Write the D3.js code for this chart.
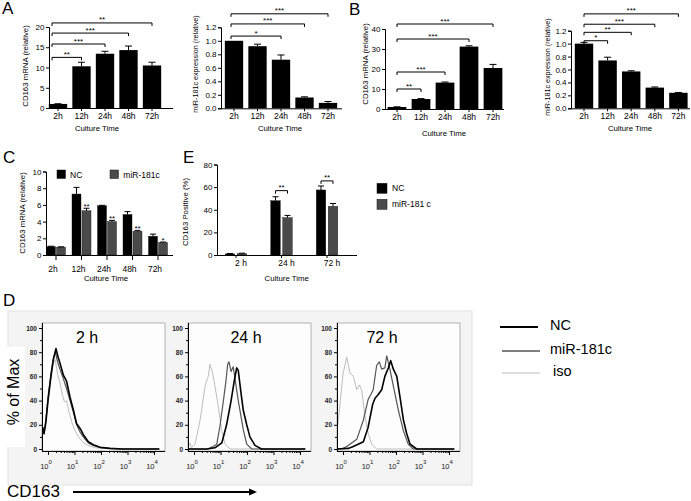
<!DOCTYPE html>
<html><head><meta charset="utf-8">
<script src="https://cdn.jsdelivr.net/npm/d3@7"></script>
<style>body{margin:0;background:#fff}svg{display:block}</style>
</head><body><svg id="c" width="691" height="501"></svg>
<script>
// ---------- DATA ----------
const timeCats = ["2h","12h","24h","48h","72h"];
const aMrna = [1.0,10.3,13.4,14.3,10.5];
const aMrnaSem = [0.05,1.0,0.6,1.0,0.8];
const aMrnaSigTo = ["12h","24h","48h","72h"];
const aMrnaSigTxt = ["**","***","***","**"];
const aMrnaSigLv = [12.5,15.8,18.5,21];

const aMir = [1.0,0.92,0.72,0.16,0.08];
const aMirSem = [0.0,0.03,0.07,0.01,0.02];
const aMirSigTo = ["24h","48h","72h"];
const aMirSigTxt = ["*","***","***"];
const aMirSigLv = [1.07,1.25,1.40];

const bMrna = [1.0,5.0,13.2,31.2,20.5];
const bMrnaSem = [0.1,0.2,0.3,0.4,1.8];
const bMrnaSigTo = ["12h","24h","48h","72h"];
const bMrnaSigTxt = ["**","***","***","***"];
const bMrnaSigLv = [10,18.5,35,42.5];

const bMir = [1.0,0.74,0.57,0.32,0.24];
const bMirSem = [0.02,0.05,0.01,0.01,0.005];
const bMirSigTo = ["12h","24h","48h","72h"];
const bMirSigTxt = ["*","**","***","***"];
const bMirSigLv = [1.045,1.175,1.30,1.46];

const seriesNames = ["NC","miR-181c"];
const cNC = [1.0,7.3,5.9,4.85,2.25];
const cNCSem = [0.05,0.8,0.05,0.35,0.25];
const cMir = [0.95,5.3,4.0,2.85,1.5];
const cMirSem = [0.03,0.3,0.15,0.1,0.05];
const cStars = ["","**","**","**","*"];

const eCats = ["2 h","24 h","72 h"];
const eNC = [1.0,48,57.5];
const eNCSem = [0.3,3.5,3.5];
const eMir = [1.2,33,43];
const eMirSem = [0.4,2,2.5];
const eSigTo = ["24 h","72 h"];
const eSigTxt = ["**","**"];
const eSigLv = [56.9,65.5];

// flow histograms: [log10 CD163, % of max]
const flowTimes = ["2 h","24 h","72 h"];
const nc2h = [[-0.2,18],[-0.15,13],[-0.08,22],[0.0,40],[0.1,58],[0.2,74],[0.3,83],[0.38,76],[0.45,71],[0.58,61],[0.7,56],[0.83,43],[0.96,32],[1.08,21],[1.21,17],[1.33,12],[1.52,6],[1.71,3.5],[1.96,1.5],[2.34,0.5],[2.8,0],[4.2,0]];
const mir2h = [[-0.2,17],[-0.15,12],[-0.08,24],[0.01,44],[0.12,64],[0.22,76],[0.28,80],[0.36,72],[0.45,66],[0.58,58],[0.7,50],[0.83,40],[0.96,30],[1.08,20],[1.21,14],[1.33,10],[1.52,5],[1.71,3],[1.96,1.2],[2.34,0.4],[2.8,0],[4.2,0]];
const iso2h = [[-0.2,16],[-0.15,13],[-0.08,26],[0.01,46],[0.12,62],[0.22,72],[0.27,74],[0.36,62],[0.45,55],[0.55,44],[0.62,39],[0.7,40],[0.8,30],[0.9,22],[1.0,16],[1.15,10],[1.3,6],[1.5,3],[1.8,1],[2.2,0.3],[2.6,0],[4.2,0]];
const nc24h = [[-0.2,0],[0.5,0],[0.79,1],[1.05,5],[1.23,20],[1.4,40],[1.51,55],[1.61,67],[1.67,65],[1.77,47],[1.86,32],[1.99,20],[2.11,10],[2.3,3],[2.55,0],[4.2,0]];
const mir24h = [[-0.2,0],[0.5,0],[0.72,2],[0.86,4],[0.98,19],[1.11,40],[1.2,55],[1.27,70],[1.32,72],[1.4,64],[1.48,68],[1.67,40],[1.86,16],[1.99,4],[2.18,0],[4.2,0]];
const iso24h = [[-0.2,3],[-0.15,5],[-0.1,1],[0.04,4],[0.23,24],[0.42,52],[0.5,58],[0.54,60],[0.6,70],[0.69,64],[0.79,52],[0.92,35],[1.04,16],[1.17,4],[1.36,0],[4.2,0]];
const nc72h = [[-0.2,0],[0.2,0.5],[0.39,2],[0.77,6],[0.95,18],[1.12,37],[1.21,42],[1.33,45],[1.46,49],[1.58,60],[1.71,67],[1.8,73],[1.9,66],[2.03,60],[2.15,43],[2.28,24],[2.4,13],[2.53,4],[2.78,0],[4.2,0]];
const mir72h = [[-0.2,0],[0.0,0.5],[0.14,2],[0.52,8],[0.77,24],[0.95,41],[1.05,45],[1.14,49],[1.27,69],[1.37,72],[1.46,66],[1.58,67],[1.65,77],[1.77,66],[1.9,52],[2.09,32],[2.28,15],[2.46,4],[2.65,0],[4.2,0]];
const iso72h = [[-0.2,19],[-0.1,40],[0.0,62],[0.14,76],[0.26,63],[0.39,60],[0.52,49],[0.62,53],[0.71,48],[0.83,27],[0.95,13],[1.08,4],[1.27,0],[4.2,0]];
const flowLegend = ["NC","miR-181c","iso"];

// ---------- DRAW ----------
const FONT = '"Liberation Sans", Arial, Helvetica, sans-serif';
const svg = d3.select('#c').attr('font-family', FONT);

function styleAxis(g, fs){
  g.attr('font-family', FONT).attr('font-size', fs);
  g.selectAll('path.domain').attr('stroke','#000');
  g.selectAll('.tick line').attr('stroke','#000');
  g.selectAll('.tick text').attr('fill','#000');
}

function bracket(g, x1, x2, yy, txt, fs){
  g.append('path').attr('d',`M${x1},${yy+3}V${yy}H${x2}V${yy+3}`).attr('fill','none').attr('stroke','#000').attr('stroke-width',1);
  g.append('text').attr('x',(x1+x2)/2).attr('y',yy-0.5).attr('text-anchor','middle').attr('font-size',fs).text(txt);
}

function errBar(g, cx, ytop, yerr, cap){
  g.append('path').attr('d',`M${cx},${ytop}V${yerr}M${cx-cap},${yerr}H${cx+cap}`).attr('stroke','#000').attr('stroke-width',1).attr('fill','none');
}

function barPanel(c){
  const g = svg.append('g');
  const y = d3.scaleLinear().domain([0,c.yMax]).range([c.y0,c.yTop]);
  const x0 = c.c0 - c.step/2;
  const x = d3.scaleBand().domain(c.cats).range([x0, x0 + c.cats.length*c.step]).paddingInner(0.22).paddingOuter(0.11);
  c.cats.forEach((k,i)=>{
    g.append('rect').attr('x',x(k)).attr('width',x.bandwidth()).attr('y',y(c.vals[i])).attr('height',c.y0-y(c.vals[i])).attr('fill','#000');
    if(c.sem[i]>0) errBar(g, x(k)+x.bandwidth()/2, y(c.vals[i]), y(c.vals[i]+c.sem[i]), 3.5);
  });
  const ya = g.append('g').attr('transform',`translate(${c.ax},0)`)
    .call(d3.axisLeft(y).tickValues(c.yTicks).tickFormat(c.fmt).tickSize(3).tickPadding(1.5));
  styleAxis(ya, 8);
  const xa = g.append('g').attr('transform',`translate(0,${c.y0})`)
    .call(d3.axisBottom(x).tickSize(3).tickPadding(2));
  xa.select('.domain').attr('d',`M${c.ax},0.5H${c.xEnd}`);
  styleAxis(xa, 8.5);
  g.append('text').attr('transform',`translate(${c.ylx},${c.yly}) rotate(-90)`).attr('text-anchor','middle').attr('dominant-baseline','central').attr('font-size',c.ylfs||7.8).text(c.ylab);
  g.append('text').attr('x',c.xlx).attr('y',c.xly).attr('text-anchor','middle').attr('dominant-baseline','central').attr('font-size',7.8).text('Culture Time');
  const sx = x(c.cats[0]) + x.bandwidth()/2 + c.sigOff;
  c.sigTo.forEach((t,i)=>{
    bracket(g, sx, x(t)+x.bandwidth()/2, y(c.sigLv[i]), c.sigTxt[i], 8);
  });
}

barPanel({cats:timeCats, vals:aMrna, sem:aMrnaSem, yMax:20, yTicks:[0,5,10,15,20], fmt:d3.format('d'),
  ax:49, y0:108, yTop:27, xEnd:173, c0:58, step:23.5, ylab:'CD163 mRNA (relative)', ylx:25, yly:66, xlx:97, xly:128,
  sigTo:aMrnaSigTo, sigTxt:aMrnaSigTxt, sigLv:aMrnaSigLv, sigOff:-6});
barPanel({cats:timeCats, vals:aMir, sem:aMirSem, yMax:1.2, yTicks:[0,0.2,0.4,0.6,0.8,1.0,1.2], fmt:d3.format('.1f'),
  ax:221, y0:108.3, yTop:27.3, xEnd:342, c0:234, step:23.5, ylab:'miR-181c expression (relative)', ylfs:7.2, ylx:195, yly:64, xlx:280, xly:128,
  sigTo:aMirSigTo, sigTxt:aMirSigTxt, sigLv:aMirSigLv, sigOff:-3});
barPanel({cats:timeCats, vals:bMrna, sem:bMrnaSem, yMax:40, yTicks:[0,10,20,30,40], fmt:d3.format('d'),
  ax:385, y0:109, yTop:29, xEnd:504, c0:397, step:24, ylab:'CD163 mRNA (relative)', ylx:365, yly:64, xlx:444, xly:133,
  sigTo:bMrnaSigTo, sigTxt:bMrnaSigTxt, sigLv:bMrnaSigLv, sigOff:0});
barPanel({cats:timeCats, vals:bMir, sem:bMirSem, yMax:1.2, yTicks:[0,0.2,0.4,0.6,0.8,1.0,1.2], fmt:d3.format('.1f'),
  ax:571, y0:108.3, yTop:30.7, xEnd:690, c0:584, step:23.6, ylab:'miR-181c expression (relative)', ylfs:7.2, ylx:547, yly:67, xlx:630, xly:128,
  sigTo:bMirSigTo, sigTxt:bMirSigTxt, sigLv:bMirSigLv, sigOff:0});

function groupPanel(c){
  const g = svg.append('g');
  const y = d3.scaleLinear().domain([0,c.yMax]).range([c.y0,c.yTop]);
  const x0 = c.c0 - c.step/2;
  const pi = 1 - c.grpBw/c.step;
  const x = d3.scaleBand().domain(c.cats).range([x0, x0 + c.cats.length*c.step]).paddingInner(pi).paddingOuter(pi/2);
  const xs = d3.scaleBand().domain(seriesNames).range([0, x.bandwidth()]).paddingInner(c.subPad);
  const cols = {"NC":"#000","miR-181c":"#4a4a4a"};
  c.cats.forEach((k,i)=>{
    [[c.v1,c.s1,"NC"],[c.v2,c.s2,"miR-181c"]].forEach(([v,s,n])=>{
      const bx = x(k)+xs(n);
      g.append('rect').attr('x',bx).attr('width',xs.bandwidth()).attr('y',y(v[i])).attr('height',c.y0-y(v[i])).attr('fill',cols[n]).attr('stroke','#111').attr('stroke-width',0.4);
      errBar(g, bx+xs.bandwidth()/2, y(v[i]), y(v[i]+s[i]), 3);
    });
  });
  const ya = g.append('g').attr('transform',`translate(${c.ax},0)`)
    .call(d3.axisLeft(y).tickValues(c.yTicks).tickSize(3).tickPadding(1.5));
  styleAxis(ya, 8);
  const xa = g.append('g').attr('transform',`translate(0,${c.y0})`)
    .call(d3.axisBottom(x).tickSize(c.xTick).tickPadding(c.xPad));
  xa.select('.domain').attr('d',`M${c.ax},0.5H${c.xEnd}`);
  xa.selectAll('.tick text').attr('dx',c.labDx);
  styleAxis(xa, 8.5);
  g.append('text').attr('transform',`translate(${c.ylx},${c.yly}) rotate(-90)`).attr('text-anchor','middle').attr('dominant-baseline','central').attr('font-size',7.8).text(c.ylab);
  g.append('text').attr('x',c.xlx).attr('y',c.xly).attr('text-anchor','middle').attr('dominant-baseline','central').attr('font-size',7.8).text('Culture Time');
  return {g,x,xs,y};
}

// Panel C
const pc = groupPanel({cats:timeCats, v1:cNC, s1:cNCSem, v2:cMir, s2:cMirSem, yMax:10, yTicks:[0,2,4,6,8,10],
  ax:46, y0:255, yTop:171.5, xEnd:173, c0:56, step:25.5, grpBw:19, subPad:0.1, xTick:5, xPad:6, labDx:-3,
  ylab:'CD163 mRNA (relative)', ylx:22.7, yly:213, xlx:106, xly:278});
timeCats.forEach((k,i)=>{
  if(!cStars[i]) return;
  const cx = pc.x(k)+pc.xs("miR-181c")+pc.xs.bandwidth()/2;
  pc.g.append('text').attr('x',cx).attr('y',pc.y(cMir[i]+cMirSem[i])+1).attr('text-anchor','middle').attr('font-size',8).text(cStars[i]);
});
// legend C
[["NC",57,70],["miR-181c",110,123.3]].forEach(([n,sx,tx],i)=>{
  pc.g.append('rect').attr('x',sx).attr('y',170).attr('width',8.5).attr('height',8.5).attr('fill',i?'#4a4a4a':'#000').attr('stroke','#111').attr('stroke-width',0.5);
  pc.g.append('text').attr('x',tx).attr('y',174.5).attr('dominant-baseline','central').attr('font-size',8.5).text(n);
});

// Panel E
const pe = groupPanel({cats:eCats, v1:eNC, s1:eNCSem, v2:eMir, s2:eMirSem, yMax:80, yTicks:[0,20,40,60,80],
  ax:217, y0:255, yTop:164.5, xEnd:357, c0:236, step:45.5, grpBw:21.5, subPad:0.208, xTick:3, xPad:2.4, labDx:5,
  ylab:'CD163 Positive (%)', ylx:185, yly:212, xlx:286.7, xly:278});
eSigTo.forEach((k,i)=>{
  const x1 = pe.x(k)+pe.xs("NC")+pe.xs.bandwidth()/2;
  const x2 = pe.x(k)+pe.xs("miR-181c")+pe.xs.bandwidth()/2;
  bracket(pe.g, x1, x2, pe.y(eSigLv[i]), eSigTxt[i], 8);
});
[["NC",0],["miR-181 c",1]].forEach(([n,i])=>{
  pe.g.append('rect').attr('x',377).attr('y',183.3+i*16).attr('width',10).attr('height',10).attr('fill',i?'#4a4a4a':'#000').attr('stroke','#111').attr('stroke-width',0.5);
  pe.g.append('text').attr('x',392).attr('y',188.3+i*16).attr('dominant-baseline','central').attr('font-size',8.5).text(n);
});

// Panel letters
[["A",2,14],["B",349,15],["C",3,163],["E",183,163],["D",3,306]].forEach(([t,x,y])=>{
  svg.append('text').attr('x',x).attr('y',y).attr('font-size',17).text(t);
});

// Panel D
const gd = svg.append('g');
gd.append('rect').attr('x',8).attr('y',311).attr('width',464).attr('height',174).attr('fill','#f4f4f4').attr('stroke','#e2e2e2');
gd.append('rect').attr('x',1).attr('y',347).attr('width',24).attr('height',100).attr('fill','#fff');
gd.append('text').attr('transform','translate(13,392) rotate(-90)').attr('text-anchor','middle').attr('dominant-baseline','central').attr('font-size',16).text('% of Max');

const flowSets = [[nc2h,mir2h,iso2h],[nc24h,mir24h,iso24h],[nc72h,mir72h,iso72h]];
const panelLeft = [42,188,337];
const lineStyle = [{c:'#000',w:1.6},{c:'#555',w:1.2},{c:'#bdbdbd',w:1}];
const PW = 123, PT = 323, PB = 451;
flowTimes.forEach((t,pi)=>{
  const L = panelLeft[pi];
  const xs = d3.scaleLinear().domain([0,4]).range([L+6, L+112]);
  const ys = d3.scaleLinear().domain([0,100]).range([449,328]);
  const g = gd.append('g');
  g.append('rect').attr('x',L).attr('y',PT).attr('width',PW).attr('height',PB-PT).attr('fill','#fdfdfd').attr('stroke','#a0a0a0').attr('stroke-width',0.8);
  const line = d3.line().x(d=>xs(d[0])).y(d=>ys(d[1]));
  [2,1,0].forEach(si=>{
    g.append('path').attr('d',line(flowSets[pi][si])).attr('fill','none').attr('stroke',lineStyle[si].c).attr('stroke-width',lineStyle[si].w).attr('stroke-linejoin','round');
  });
  const ya = g.append('g').attr('transform',`translate(${L},0)`).call(d3.axisLeft(ys).tickValues([0,20,40,60,80,100]).tickSize(3).tickPadding(2));
  ya.select('.domain').attr('d',`M0.5,${PB}V${PT}`);
  styleAxis(ya, 6.5);
  ya.selectAll('.tick text').attr('font-weight','bold').attr('fill','#222');
  g.append('g').attr('transform',`translate(${L},0)`).call(d3.axisLeft(ys).tickValues(d3.range(10,100,20)).tickSize(2).tickFormat('')).call(s=>{s.select('.domain').remove(); styleAxis(s,6);});
  const minors = [];
  for(let dd=0; dd<4; dd++) for(let k=2;k<10;k++) minors.push(dd+Math.log10(k));
  const xa = g.append('g').attr('transform',`translate(0,${PB})`).call(d3.axisBottom(xs).tickValues([0,1,2,3,4]).tickSize(4).tickFormat(''));
  xa.select('.domain').attr('d',`M${L},0.5H${L+PW}`);
  styleAxis(xa, 6);
  g.append('g').attr('transform',`translate(0,${PB})`).call(d3.axisBottom(xs).tickValues(minors).tickSize(2).tickFormat('')).call(s=>{s.select('.domain').remove(); styleAxis(s,6);});
  [0,1,2,3,4].forEach(e=>{
    const tx = g.append('text').attr('x',xs(e)-2).attr('y',469).attr('text-anchor','middle').attr('font-size',7.5).attr('fill','#222');
    tx.append('tspan').text('10');
    tx.append('tspan').attr('dy',-5).attr('font-size',6).text(e);
  });
  g.append('text').attr('x',L+(pi===0?45:pi===1?58:45)).attr('y',337).attr('text-anchor','middle').attr('dominant-baseline','central').attr('font-size',16).text(t);
});

// CD163 arrow
gd.append('text').attr('x',7).attr('y',497).attr('font-size',17).text('CD163');
gd.append('path').attr('d','M73,492H250').attr('stroke','#000').attr('stroke-width',2);
gd.append('path').attr('d','M249,488.5L257,492L249,495.5Z').attr('fill','#000');

// Legend D
flowLegend.forEach((n,i)=>{
  const yy = [327,351,373][i];
  svg.append('line').attr('x1',i?502:500).attr('x2',i?540:538).attr('y1',yy).attr('y2',yy).attr('stroke',lineStyle[i].c).attr('stroke-width',[2.2,1.6,1.2][i]);
  svg.append('text').attr('x',i===2?553:550).attr('y',yy-2).attr('dominant-baseline','central').attr('font-size',14.5).text(n);
});
</script></body></html>
